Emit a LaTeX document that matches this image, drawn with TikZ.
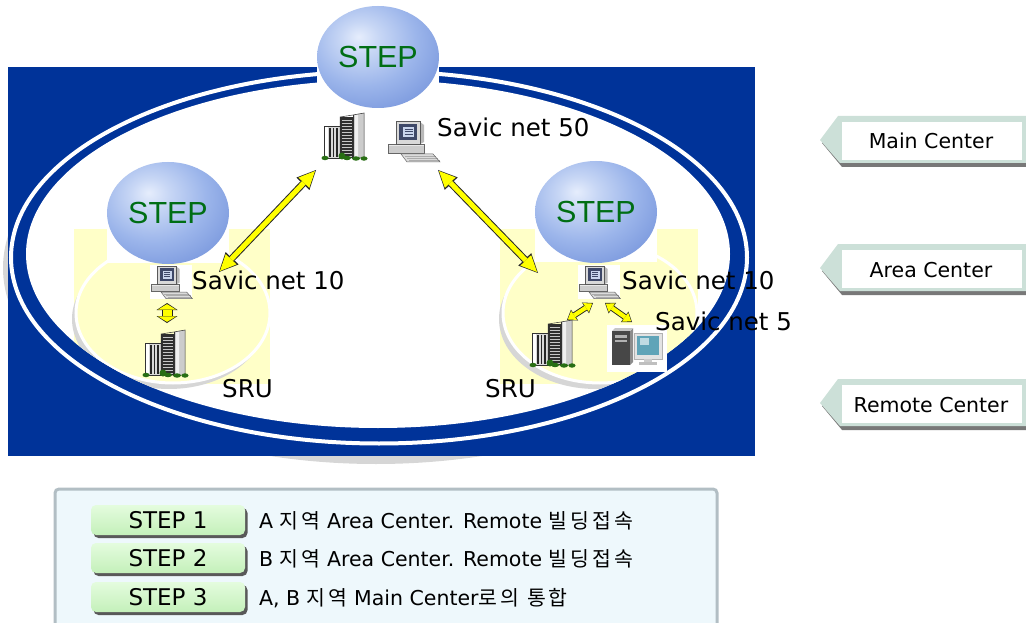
\documentclass[tikz,border=0pt]{standalone}
\usepackage{fontspec}
\setmainfont{DejaVu Sans}
\newfontfamily\spherefont{Liberation Sans}
\newfontfamily\krfont[LetterSpace=15]{Noto Sans CJK KR}
\usetikzlibrary{arrows.meta,shadows,shapes.geometric}

\definecolor{ringblue}{RGB}{0,51,153}
\definecolor{areayellow}{RGB}{255,255,200}
\definecolor{ringshadow}{RGB}{214,214,214}
\definecolor{tabframe}{RGB}{204,224,216}
\definecolor{tabshadow}{RGB}{120,120,120}
\definecolor{panelfill}{RGB}{238,248,252}
\definecolor{panelline}{RGB}{178,190,196}
\definecolor{btntop}{RGB}{228,252,222}
\definecolor{btnbot}{RGB}{196,240,186}
\definecolor{steptext}{RGB}{0,110,20}
\definecolor{arrowyellow}{RGB}{255,255,0}
\definecolor{screendark}{RGB}{62,72,104}
\definecolor{screenlight}{RGB}{200,212,236}
\definecolor{screenteal}{RGB}{96,164,184}
\definecolor{bush}{RGB}{40,110,20}

% light blue globe, brightest a little above and left of the middle
\pgfdeclareradialshading{sphereshade}{\pgfpoint{-8bp}{10bp}}{%
  rgb(0bp)=(0.90,0.93,0.99);
  rgb(8bp)=(0.78,0.84,0.96);
  rgb(22bp)=(0.61,0.71,0.92);
  rgb(38bp)=(0.46,0.58,0.86);
  rgb(55bp)=(0.36,0.48,0.80);
  rgb(100bp)=(0.36,0.48,0.80)}

\tikzset{
  sphere/.style={ellipse, minimum width=122pt, minimum height=102pt, inner sep=0pt,
    shading=sphereshade, text=steptext, font=\spherefont\fontsize{30.5}{32}\selectfont},
  savic/.style={font=\fontsize{24.5}{28}\selectfont, inner sep=0pt, anchor=base west},
  tablabel/.style={font=\fontsize{20.5}{24}\selectfont, inner sep=0pt, anchor=base},
  stepbtn/.style={rounded corners=5pt, minimum width=154pt, minimum height=30pt, inner sep=0pt,
    top color=btntop, bottom color=btnbot, font=\fontsize{23}{26}\selectfont,
    drop shadow={shadow xshift=2.5pt, shadow yshift=-3pt, fill=black!65, opacity=1}},
  steptxt/.style={font=\fontsize{20.5}{24}\selectfont, inner sep=0pt, anchor=base west},
  % fat yellow double arrows: dark outline pass, then yellow pass
  bigout/.style={draw=black!85, line width=7pt,
    {Triangle[length=19pt,width=18pt,line width=0pt]}-{Triangle[length=19pt,width=18pt,line width=0pt]}},
  bigin/.style={draw=arrowyellow, line width=5pt, shorten <=1.4pt, shorten >=1.4pt,
    {Triangle[length=16.2pt,width=15pt,line width=0pt]}-{Triangle[length=16.2pt,width=15pt,line width=0pt]}},
  vout/.style={draw=black!85, line width=11pt,
    {Triangle[length=7pt,width=21pt,line width=0pt]}-{Triangle[length=7pt,width=21pt,line width=0pt]}},
  vin/.style={draw=arrowyellow, line width=9pt, shorten <=1.1pt, shorten >=1.1pt,
    {Triangle[length=5.6pt,width=18.4pt,line width=0pt]}-{Triangle[length=5.6pt,width=18.4pt,line width=0pt]}},
  sout/.style={draw=black!85, line width=6pt,
    {Triangle[length=9pt,width=13pt,line width=0pt]}-{Triangle[length=9pt,width=13pt,line width=0pt]}},
  sin/.style={draw=arrowyellow, line width=4.2pt, shorten <=1pt, shorten >=1pt,
    {Triangle[length=7.4pt,width=10.8pt,line width=0pt]}-{Triangle[length=7.4pt,width=10.8pt,line width=0pt]}},
  % office building, 46 x 48, origin at top left
  building/.pic={
    \fill[gray!30] (2,14) rectangle (18,46);
    \fill[white] (3,14) rectangle (5.5,46);
    \foreach \xx in {7,10.5,14} \fill[black!85] (\xx,16) rectangle (\xx+1.8,45);
    \draw[black!80, line width=0.5pt] (2,14) rectangle (18,46);
    \fill[black!82] (18,5) rectangle (31,46);
    \foreach \yy in {8,11,...,44} \draw[gray!45, line width=0.8pt] (19.5,\yy) -- (29.5,\yy);
    \fill[gray!40] (31,3) -- (42,1) -- (42,46) -- (31,46) -- cycle;
    \fill[gray!12] (33,3) -- (36,2.5) -- (36,46) -- (33,46) -- cycle;
    \draw[black!80, line width=0.5pt] (18,5) -- (31,3) -- (42,1) -- (42,46) -- (18,46) -- cycle;
    \draw[black!80, line width=0.5pt] (31,3) -- (31,46);
    \fill[bush] (3,46) ellipse (3.5 and 2.2);
    \fill[bush] (20,44) ellipse (3.5 and 3.5);
    \fill[bush] (25,46) ellipse (4 and 2.2);
    \fill[bush] (34,46.5) ellipse (4 and 2.2);
    \fill[bush] (42,46.5) ellipse (3.5 and 2.2);
  },
  % desktop computer, 53 x 43, origin at top left
  pc/.pic={
    \fill[white] (0,0) rectangle (53,43);
    \fill[gray!40] (1,24) rectangle (37,33);
    \fill[gray!18] (1,24) rectangle (37,26.5);
    \draw[black!60, line width=0.5pt] (1,24) rectangle (37,33);
    \fill[gray!55] (33,2) -- (37,5) -- (37,22) -- (33,24) -- cycle;
    \fill[gray!30] (9,1) rectangle (33,24);
    \fill[screendark] (12,4) rectangle (30,20.5);
    \fill[screenlight] (16,7) rectangle (27,17);
    \foreach \yy in {9,11.5,14} \draw[screendark, line width=0.6pt] (17.5,\yy) -- (25.5,\yy);
    \draw[black!65, line width=0.5pt] (9,1) rectangle (33,24);
    \fill[gray!28] (14,34) -- (46,34) -- (53,42) -- (20,42) -- cycle;
    \foreach \yy in {36,38,40} \draw[gray!65, line width=0.6pt] (16+\yy-34,\yy) -- (47+\yy-34,\yy);
    \draw[black!60, line width=0.5pt] (14,34) -- (46,34) -- (53,42) -- (20,42) -- cycle;
  },
  % workstation with tower and flat monitor, 60 x 47, origin at top left
  workstation/.pic={
    \fill[white] (0,0) rectangle (60,47);
    \fill[black!45] (23,6) -- (26,3) -- (26,37) -- (23,40) -- cycle;
    \fill[gray!45] (5,6) -- (8,3) -- (26,3) -- (23,6) -- cycle;
    \fill[black!72] (5,6) rectangle (23,40);
    \fill[gray!60] (8,10) rectangle (20,13);
    \fill[gray!60] (8,15) rectangle (20,17);
    \fill[gray!22] (27,8) rectangle (55,34);
    \draw[gray!60, line width=0.5pt] (27,8) rectangle (55,34);
    \fill[screenteal] (30,11) rectangle (52,30);
    \fill[white!60!screenteal] (33,13) rectangle (42,20);
    \fill[gray!40] (37,34) rectangle (45,37);
    \fill[gray!50] (32,37) rectangle (50,40);
  },
}

\begin{document}
\begin{tikzpicture}[x=1pt,y=-1pt]
\useasboundingbox (0,0) rectangle (1026,623);

% ---------- backdrop: blue field with white ring ----------
\fill[ringshadow] (376,268) ellipse [x radius=373pt, y radius=196pt];
\fill[ringblue] (8,67) rectangle (755,456);
\draw[white, line width=4pt] (379,257.5) ellipse [x radius=368pt, y radius=186pt];
\fill[white] (378,254) ellipse [x radius=352pt, y radius=174pt];

% ---------- two regional areas ----------
\begin{scope}
  \clip (378,254) ellipse [x radius=352pt, y radius=174pt];
  \fill[areayellow] (74,229) rectangle (270,384);
  \fill[ringshadow] (169,319) ellipse [x radius=97pt, y radius=70pt];
  \draw[white, line width=3pt, fill=areayellow] (173,313) ellipse [x radius=97pt, y radius=70pt];
  \fill[areayellow] (500,229) rectangle (698,384);
  \fill[ringshadow] (596,319) ellipse [x radius=97pt, y radius=70pt];
  \draw[white, line width=3pt, fill=areayellow] (600,313) ellipse [x radius=97pt, y radius=70pt];
\end{scope}

% ---------- STEP globes ----------
\fill[white] (317,5) rectangle (439,108);
\fill[white] (107,163) rectangle (229,263);
\fill[white] (535,162) rectangle (657,262);
\node[sphere] (stepmain) at (378,57) {STEP};
\node[sphere] (stepa) at (168,213) {STEP};
\node[sphere] (stepb) at (596,212) {STEP};

% ---------- equipment ----------
\pic (mainsrv) at (322,112) {building};
\pic (mainpc) at (387,120) {pc};
\pic[scale=0.8] (apc) at (150,265) {pc};
\pic (asrv) at (143,329) {building};
\pic[scale=0.8] (bpc) at (578,265) {pc};
\pic (bsrv) at (530,319) {building};
\pic (bws) at (607,325) {workstation};

% ---------- labels ----------
\node[savic] (lmain) at (437,137) {Savic net 50};
\node[savic] (la) at (192,289) {Savic net 10};
\node[savic] (lb) at (622,289) {Savic net 10};
\node[savic] (lb5) at (655,330) {Savic net 5};
\node[savic] (sruA) at (222,397) {SRU};
\node[savic] (sruB) at (485,397) {SRU};

% ---------- links ----------
\coordinate (mainL) at (316,170);
\coordinate (mainR) at (438,170);
\coordinate (aUp) at (219,272);
\coordinate (bUp) at (538,273);
\coordinate (aPcBot) at (167,303);
\coordinate (aSrvTop) at (167,323);
\coordinate (bPcL) at (593,303);
\coordinate (bSrvTop) at (567,320);
\coordinate (bPcR) at (605,303);
\coordinate (bWsTop) at (632,322);
\draw[bigout] (aUp) -- (mainL);
\draw[bigin] (aUp) -- (mainL);
\draw[bigout] (mainR) -- (bUp);
\draw[bigin] (mainR) -- (bUp);
\draw[vout] (aPcBot) -- (aSrvTop);
\draw[vin] (aPcBot) -- (aSrvTop);
\draw[sout] (bSrvTop) -- (bPcL);
\draw[sin] (bSrvTop) -- (bPcL);
\draw[sout] (bPcR) -- (bWsTop);
\draw[sin] (bPcR) -- (bWsTop);

% ---------- level tabs on the right ----------
\foreach \t/\txt/\nm in {116/Main Center/tabmain, 244/Area Center/tabarea, 379/Remote Center/tabremote}{
  \fill[tabshadow] (822,\t+27) -- (840,\t+4) -- (1026,\t+4) -- (1026,\t+51) -- (842,\t+51) -- cycle;
  \fill[tabframe] (820,\t+24) -- (838,\t) -- (1026,\t) -- (1026,\t+47) -- (840,\t+47) -- cycle;
  \fill[white] (842,\t+6) rectangle (1022,\t+44);
  \node[tablabel] (\nm) at (931,\t+33) {\txt};
}

% ---------- step legend ----------
\draw[panelline, line width=3pt, fill=panelfill, rounded corners=4pt] (55,489) rectangle (717,650);
\node[stepbtn] (btn1) at (168,520) {STEP 1};
\node[stepbtn] (btn2) at (168,558) {STEP 2};
\node[stepbtn] (btn3) at (168,597) {STEP 3};
\node[steptxt] (txt1) at (259,528) {A {\krfont 지역} Area Center. Remote {\krfont 빌딩접속}};
\node[steptxt] (txt2) at (259,566) {B {\krfont 지역} Area Center. Remote {\krfont 빌딩접속}};
\node[steptxt] (txt3) at (259,605) {A, B {\krfont 지역} Main Center{\krfont 로의 통합}};
\end{tikzpicture}
\end{document}
